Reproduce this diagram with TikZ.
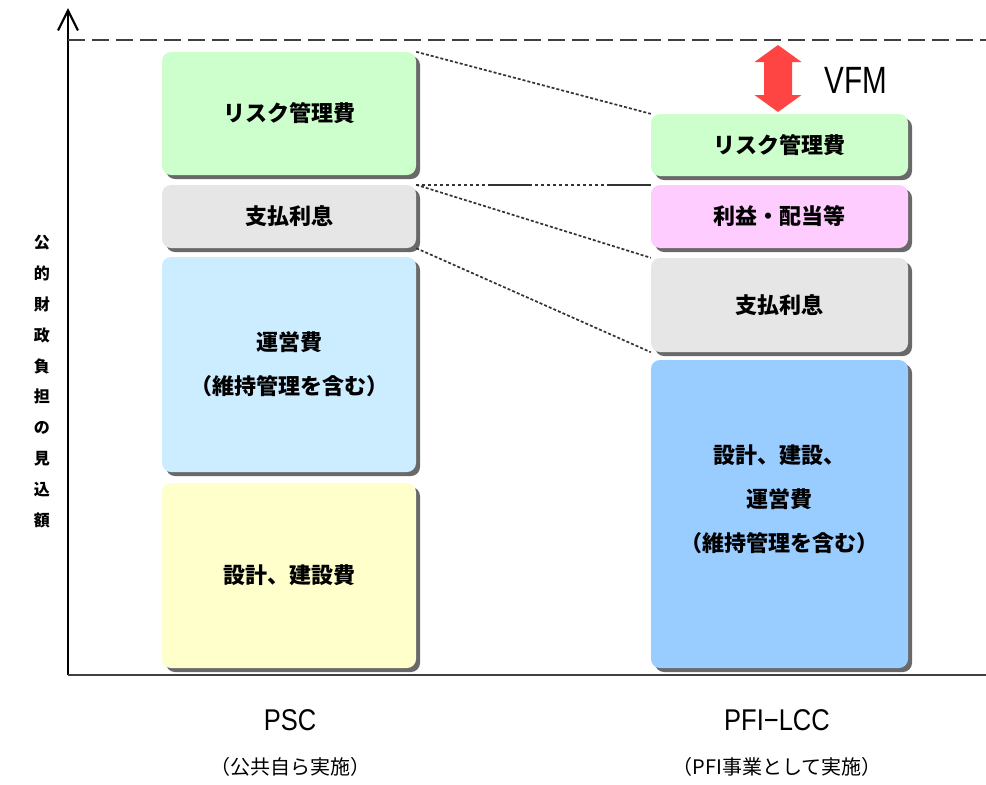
\documentclass[tikz,border=0pt]{standalone}
\usepackage{fontspec}
\usepackage{graphicx}
\setmainfont{Liberation Sans}
\newfontfamily\jp{Noto Sans CJK JP}
\usetikzlibrary{arrows.meta,shadows}

\definecolor{rgreen}{RGB}{204,255,204}
\definecolor{rgray}{RGB}{230,230,230}
\definecolor{rlblue}{RGB}{204,236,255}
\definecolor{ryellow}{RGB}{255,255,204}
\definecolor{rpink}{RGB}{255,204,255}
\definecolor{rblue}{RGB}{153,204,255}
\definecolor{vfmred}{RGB}{255,68,68}

\begin{document}
\begin{tikzpicture}[x=1pt, y=-1pt, >={Straight Barb[length=20pt,width=20pt]},
  costbox/.style={rounded corners=9pt, align=center, inner sep=0pt,
    font=\jp\bfseries\fontsize{22}{44}\selectfont,
    drop shadow={shadow xshift=4pt, shadow yshift=-4pt, fill=black!65, opacity=0.9}},
  leftbox/.style={costbox, minimum width=254pt},
  rightbox/.style={costbox, minimum width=257pt},
  link/.style={black!80, line width=1.7pt, dash pattern=on 3pt off 2pt},
  latin/.style={font=\fontsize{30}{30}\selectfont},
  note/.style={font=\jp\fontsize{20}{20}\selectfont}]
\useasboundingbox (0,0) rectangle (986,785);

% axes
\coordinate (origin) at (68,675);
\draw [line width=2.2pt, ->] (origin) -- (68,8);
\draw [line width=2.5pt, black!75] (origin) -- (986,675);
\draw [line width=2pt, black!75, dash pattern=on 17pt off 7pt] (68,40) -- (986,40);
\node (ylabel) at (42,381.5) [font=\jp\bfseries\fontsize{16}{30.8}\selectfont, align=center]
  {公\\的\\財\\政\\負\\担\\の\\見\\込\\額};

% PSC
\node [leftbox, fill=rgreen, minimum height=123pt] (lrisk) at (289,113.5) {リスク管理費};
\node [leftbox, fill=rgray, minimum height=63pt] (lint) at (289,216.5) {支払利息};
\node [leftbox, fill=rlblue, minimum height=215pt] (lops) at (289,364.5) {運営費\\（維持管理を含む）};
\node [leftbox, fill=ryellow, minimum height=185pt] (lbuild) at (289,575.5) {設計、建設費};

% PFI-LCC
\node [rightbox, fill=rgreen, minimum height=62pt] (rrisk) at (779.5,145) {リスク管理費};
\node [rightbox, fill=rpink, minimum height=63pt] (rprofit) at (779.5,216.5) {利益・配当等};
\node [rightbox, fill=rgray, minimum height=94pt] (rint) at (779.5,305) {支払利息};
\node [rightbox, fill=rblue, minimum height=308pt, text depth=32pt] (rbuild) at (779.5,514)
  {設計、建設、\\運営費\\（維持管理を含む）};

\draw [link] (lrisk.north east) -- (rrisk.north west);
\draw [link, dash pattern=on 3pt off 3pt on 3pt off 3pt on 3pt off 3pt on 3pt off 3pt
  on 3pt off 3pt on 3pt off 3pt on 3pt off 3pt on 3pt off 3pt on 3pt off 3pt on 3pt off 3pt
  on 3pt off 3pt on 3pt off 3pt on 44pt off 3pt] (lint.north east) -- (rprofit.north west);
\draw [link] (lint.north east) -- (rint.north west);
\draw [link] (lint.south east) -- (rint.south west);

% VFM
\fill [vfmred] (778,45) -- (801.5,62) -- (792,62) -- (792,95) -- (801.5,95) -- (778,112)
  -- (754.5,95) -- (764,95) -- (764,62) -- (754.5,62) -- cycle;
\node (vfm) at (856,80) {\fontsize{38}{38}\selectfont\scalebox{0.78}[1]{VFM}};

% labels below
\node [latin] (pscname) at (290,720) {\scalebox{0.85}[1]{PSC}};
\node [note] (pscnote) at (290,767) {（公共自ら実施）};
\node [latin] (pfiname) at (777,720) {\scalebox{0.85}[1]{PFI−LCC}};
\node [note] (pfinote) at (777,767) {（PFI事業として実施）};
\end{tikzpicture}
\end{document}
